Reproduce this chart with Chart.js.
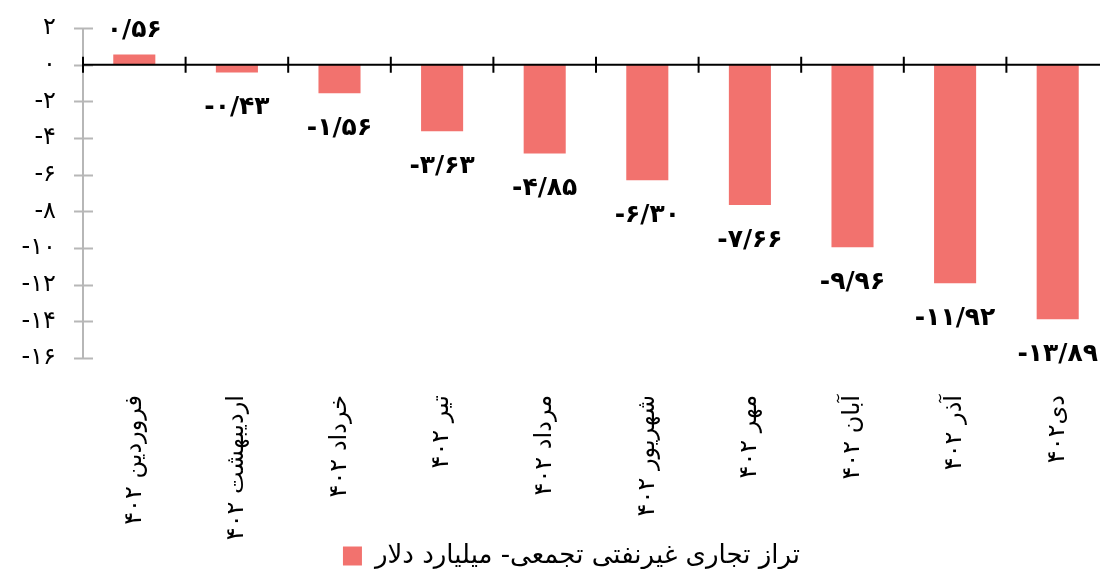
<!DOCTYPE html>
<html>
<head>
<meta charset="utf-8">
<script src="https://cdn.jsdelivr.net/npm/chart.js@4.4.0/dist/chart.umd.min.js"></script>
<style>
  html, body { margin: 0; padding: 0; background: #fff; overflow: hidden; }
  #wrap { width: 1109px; height: 569px; }
</style>
</head>
<body>
<div id="wrap"><canvas id="myChart"></canvas></div>
<script>
const months = ['فروردین ۴۰۲', 'اردیبهشت ۴۰۲', 'خرداد ۴۰۲', 'تیر ۴۰۲', 'مرداد ۴۰۲',
                'شهریور ۴۰۲', 'مهر ۴۰۲', 'آبان ۴۰۲', 'آذر ۴۰۲', 'دی۴۰۲'];
const balance = [0.56, -0.43, -1.56, -3.63, -4.85, -6.30, -7.66, -9.96, -11.92, -13.89];
const yMin = -16;
const yMax = 2;
const yStep = 2;
const seriesName = 'تراز تجاری غیرنفتی تجمعی- میلیارد دلار';

const FONT = '"DejaVu Sans", sans-serif';
const faDigits = s => String(s).replace(/\d/g, d => '۰۱۲۳۴۵۶۷۸۹'[d]);

// value labels under/over each bar
const barLabels = {
  id: 'barLabels',
  afterDatasetsDraw(chart) {
    const ctx = chart.ctx;
    const meta = chart.getDatasetMeta(0);
    ctx.save();
    ctx.font = 'bold 25px ' + FONT;
    ctx.fillStyle = '#000';
    ctx.textAlign = 'center';
    ctx.textBaseline = 'middle';
    meta.data.forEach((bar, i) => {
      const v = balance[i];
      const y = v >= 0 ? bar.y - 24 : bar.y + 35;
      ctx.fillText(faDigits(v.toFixed(2).replace('.', '/')), bar.x, y);
    });
    ctx.restore();
  }
};

// gray value axis with crossing ticks, black zero line with category ticks
const axisMarks = {
  id: 'axisMarks',
  afterDatasetsDraw(chart) {
    const ctx = chart.ctx;
    const area = chart.chartArea;
    const x = chart.scales.x, y = chart.scales.y;
    const left = area.left;
    ctx.save();
    ctx.strokeStyle = '#b7b7b7';
    ctx.lineWidth = 2;
    ctx.beginPath();
    ctx.moveTo(left, y.getPixelForValue(yMax));
    ctx.lineTo(left, y.getPixelForValue(yMin));
    y.ticks.forEach(t => {
      const py = Math.round(y.getPixelForValue(t.value)) + 0.5;
      ctx.moveTo(left - 9, py);
      ctx.lineTo(left + 10, py);
    });
    ctx.stroke();

    const z = y.getPixelForValue(0);
    ctx.strokeStyle = '#000';
    ctx.lineWidth = 2;
    ctx.beginPath();
    ctx.moveTo(left, z);
    ctx.lineTo(area.right, z);
    for (let i = 0; i <= months.length; i++) {
      const px = x.getPixelForValue(i - 0.5);
      ctx.moveTo(px, z - 8);
      ctx.lineTo(px, z + 8);
    }
    ctx.stroke();
    ctx.restore();
  }
};

// legend sits a little right of centre and close to the bottom edge
const legendPlace = {
  id: 'legendPlace',
  afterLayout(chart) {
    const lg = chart.legend;
    const h = lg.bottom - lg.top;
    lg.left += 17;
    lg.right += 17;
    lg.top = 543;
    lg.bottom = lg.top + h;
  }
};

const ctx = document.getElementById('myChart').getContext('2d');
const myChart = new Chart(ctx, {
  type: 'bar',
  data: {
    labels: months,
    datasets: [
      {
        label: seriesName,
        data: balance,
        backgroundColor: '#F2726E',
        borderWidth: 0,
        barPercentage: 0.41,
        categoryPercentage: 1
      }
    ]
  },
  options: {
    responsive: true,
    maintainAspectRatio: false,
    animation: false,
    layout: { padding: { top: 28, right: 0, bottom: -10, left: 0 } },
    plugins: {
      tooltip: { enabled: false },
      legend: {
        position: 'bottom',
        labels: {
          color: '#000',
          font: { family: FONT, size: 26 },
          boxWidth: 19,
          boxHeight: 19,
          padding: 0
        }
      }
    },
    scales: {
      x: {
        grid: { display: false, drawTicks: true, tickLength: 37 },
        border: { display: false },
        ticks: {
          autoSkip: false,
          minRotation: 90,
          maxRotation: 90,
          padding: 0,
          color: '#000',
          font: { family: FONT, size: 24 }
        },
        afterFit: s => { s.height = s.chart.height + 10 - 358 - s.chart.legend.height; }
      },
      y: {
        min: yMin,
        max: yMax,
        grid: { display: false, drawTicks: true, tickLength: 27 },
        border: { display: false },
        ticks: {
          stepSize: yStep,
          padding: 0,
          color: '#000',
          font: { family: FONT, size: 24 },
          callback: v => faDigits(v)
        },
        afterFit: s => { s.width = 83; }
      }
    }
  },
  plugins: [barLabels, axisMarks, legendPlace]
});
</script>
</body>
</html>
